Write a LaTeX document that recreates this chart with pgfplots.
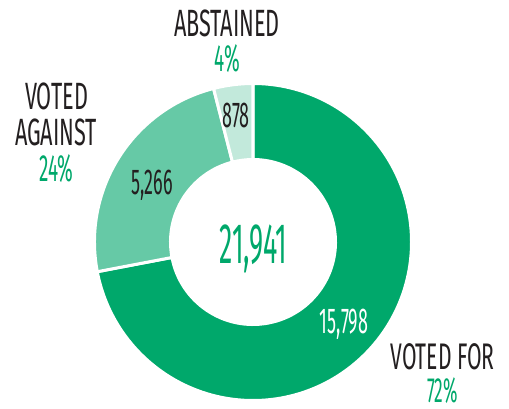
\documentclass[border=0pt]{standalone}
\usepackage{pgfplots}
\pgfplotsset{compat=1.18}
\usepackage{pgfplotstable}
\usepackage{fontspec}
\setmainfont{Fira Sans}[FakeStretch=0.57]
\newfontfamily\numfont{Fira Sans}[FakeStretch=0.5]
\newfontfamily\bigfont{Fira Sans}[FakeStretch=0.47]
\definecolor{gFor}{HTML}{00A86B}
\definecolor{gAgainst}{HTML}{66C9A6}
\definecolor{gAbst}{HTML}{C2E9DB}
\definecolor{txt}{HTML}{231F20}
\pgfplotstableread{
name value
For 15798
Against 5266
Abstained 878
}\votes
\begin{document}
\begin{tikzpicture}[every node/.style={inner sep=0pt, outer sep=0pt}]
\pgfplotstablegetelem{0}{value}\of\votes \pgfmathsetmacro\vA{\pgfplotsretval/1000}
\pgfplotstablegetelem{1}{value}\of\votes \pgfmathsetmacro\vB{\pgfplotsretval/1000}
\pgfplotstablegetelem{2}{value}\of\votes \pgfmathsetmacro\vC{\pgfplotsretval/1000}
\pgfmathsetmacro\tot{\vA+\vB+\vC}
\pgfmathsetmacro\aZ{90}
\pgfmathsetmacro\aA{90-360*(\vA/\tot)}
\pgfmathsetmacro\aB{\aA-360*(\vB/\tot)}
\pgfmathsetmacro\aC{\aB-360*(\vC/\tot)}
\pgfmathsetmacro\aAr{\aA+180}
\pgfmathsetmacro\aBr{\aB+180}
\pgfmathsetmacro\aCr{\aC+180}
\def\Ro{158.5}
\def\Ri{82.5}
\pgfmathsetmacro\Rd{\Ro-\Ri}
\begin{axis}[
  scale only axis, width=509pt, height=408pt,
  xmin=0, xmax=509, ymin=0, ymax=408,
  hide axis, clip=false,
]
\coordinate (C) at (axis cs:253,166);
\fill[gFor, draw=white, line width=3pt, line join=miter]
  (C) ++(\aZ:\Ro pt) arc[start angle=\aZ, end angle=\aA, radius=\Ro pt]
  -- ++(\aAr:\Rd pt) arc[start angle=\aA, end angle=\aZ, radius=\Ri pt] -- cycle;
\fill[gAgainst, draw=white, line width=3pt, line join=miter]
  (C) ++(\aA:\Ro pt) arc[start angle=\aA, end angle=\aB, radius=\Ro pt]
  -- ++(\aBr:\Rd pt) arc[start angle=\aB, end angle=\aA, radius=\Ri pt] -- cycle;
\fill[gAbst, draw=white, line width=3pt, line join=miter]
  (C) ++(\aB:\Ro pt) arc[start angle=\aB, end angle=\aC, radius=\Ro pt]
  -- ++(\aCr:\Rd pt) arc[start angle=\aC, end angle=\aB, radius=\Ri pt] -- cycle;
% slice values
\node[anchor=base, white, font=\numfont\fontsize{36}{36}\selectfont] at (axis cs:344,75) {15,798};
\node[anchor=base, txt, font=\numfont\fontsize{36}{36}\selectfont] at (axis cs:152,213) {5,266};
\node[anchor=base, txt, font=\numfont\fontsize{36}{36}\selectfont] at (axis cs:236,280) {878};
\node[anchor=base, gFor, font=\bigfont\fontsize{57}{57}\selectfont] at (axis cs:253.5,145) {21,941};
% category labels
\node[anchor=base, txt, font=\fontsize{38}{38}\selectfont] at (axis cs:227,371) {ABSTAINED};
\node[anchor=base, gFor, font=\numfont\fontsize{38}{38}\selectfont] at (axis cs:227.5,336) {4\%};
\node[anchor=base, txt, font=\fontsize{38}{38}\selectfont] at (axis cs:56.5,298) {VOTED};
\node[anchor=base, txt, font=\fontsize{38}{38}\selectfont] at (axis cs:56,262) {AGAINST};
\node[anchor=base, gFor, font=\numfont\fontsize{38}{38}\selectfont] at (axis cs:56.5,226) {24\%};
\node[anchor=base, txt, font=\fontsize{37}{37}\selectfont] at (axis cs:442.5,39) {VOTED FOR};
\node[anchor=base, gFor, font=\numfont\fontsize{35}{35}\selectfont] at (axis cs:442.5,6) {72\%};
\end{axis}
\pgfresetboundingbox
\path (0,0) rectangle (509pt,408pt);
\end{tikzpicture}
\end{document}
